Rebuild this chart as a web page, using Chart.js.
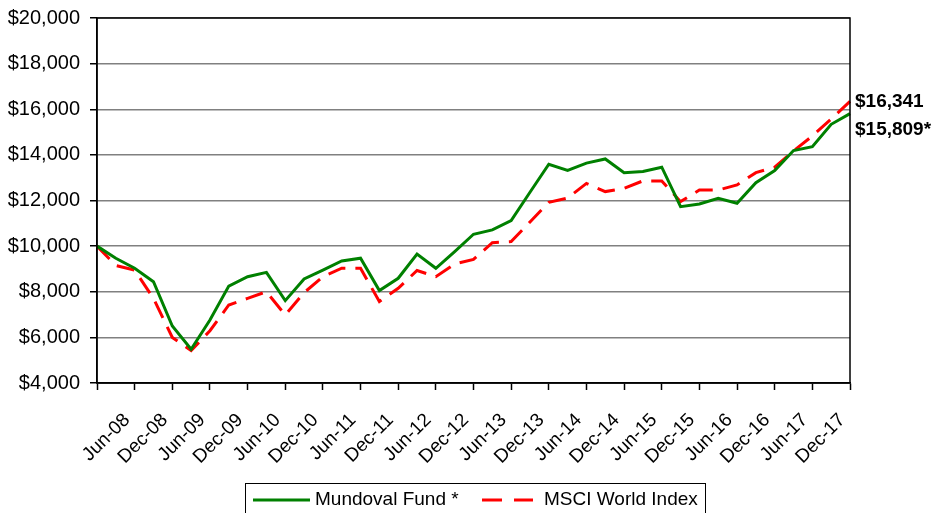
<!DOCTYPE html>
<html>
<head>
<meta charset="utf-8">
<script src="https://cdn.jsdelivr.net/npm/chart.js@4.4.0/dist/chart.umd.min.js"></script>
<style>
  html, body { margin: 0; padding: 0; background: #fff; }
  #contenedor { width: 934px; height: 513px; position: relative; }
</style>
</head>
<body>
<div id="contenedor"><canvas id="grafico" width="934" height="513"></canvas></div>
<script>
const trimestres = [
    'Jun-08', 'Sep-08', 'Dec-08', 'Mar-09', 'Jun-09', 'Sep-09', 'Dec-09', 'Mar-10',
    'Jun-10', 'Sep-10', 'Dec-10', 'Mar-11', 'Jun-11', 'Sep-11', 'Dec-11', 'Mar-12',
    'Jun-12', 'Sep-12', 'Dec-12', 'Mar-13', 'Jun-13', 'Sep-13', 'Dec-13', 'Mar-14',
    'Jun-14', 'Sep-14', 'Dec-14', 'Mar-15', 'Jun-15', 'Sep-15', 'Dec-15', 'Mar-16',
    'Jun-16', 'Sep-16', 'Dec-16', 'Mar-17', 'Jun-17', 'Sep-17', 'Dec-17', 'Mar-18',
    'Jun-18',
];

// etiquetas visibles en el eje X (cada semestre)
const etiquetasX = [
    'Jun-08', 'Dec-08', 'Jun-09', 'Dec-09', 'Jun-10', 'Dec-10', 'Jun-11', 'Dec-11',
    'Jun-12', 'Dec-12', 'Jun-13', 'Dec-13', 'Jun-14', 'Dec-14', 'Jun-15', 'Dec-15',
    'Jun-16', 'Dec-16', 'Jun-17', 'Dec-17',
];

const fondoMundoval = [
    10000, 9470, 9030, 8440, 6500, 5480, 6760, 8250,
    8660, 8850, 7610, 8560, 8950, 9350, 9470, 8050,
    8590, 9655, 9030, 9760, 10520, 10710, 11120, 12360,
    13590, 13320, 13640, 13820, 13220, 13270, 13460, 11730,
    11850, 12100, 11880, 12780, 13310, 14190, 14360, 15340,
    15809,
];

const indiceMSCI = [
    10000, 9150, 8950, 7710, 6000, 5420, 6290, 7420,
    7710, 8000, 6980, 7960, 8660, 9030, 9030, 7570,
    8150, 8930, 8660, 9220, 9420, 10150, 10200, 11060,
    11920, 12110, 12750, 12390, 12530, 12860, 12860, 11950,
    12460, 12460, 12680, 13220, 13460, 14170, 14830, 15570,
    16341,
];

const etiquetasFinales = ['$15,809*', '$16,341'];

const FUENTE = 'Arial, "Liberation Sans", sans-serif';

const bordeArea = {
    id: 'bordeArea',
    afterDatasetsDraw(chart) {
        const { ctx, chartArea: a } = chart;
        ctx.save();
        ctx.strokeStyle = '#000';
        ctx.lineWidth = 1.5;
        ctx.strokeRect(a.left, a.top, a.right - a.left, a.bottom - a.top);
        ctx.restore();
    },
};

const valoresFinales = {
    id: 'valoresFinales',
    afterDatasetsDraw(chart) {
        const { ctx, chartArea: a } = chart;
        const ptoFondo = chart.getDatasetMeta(0).data.at(-1);
        const ptoIndice = chart.getDatasetMeta(1).data.at(-1);
        ctx.save();
        ctx.font = 'bold 19px ' + FUENTE;
        ctx.fillStyle = '#000';
        ctx.textAlign = 'left';
        ctx.textBaseline = 'middle';
        ctx.fillText(etiquetasFinales[1], a.right + 5, ptoIndice.y);
        ctx.fillText(etiquetasFinales[0], a.right + 5, ptoFondo.y + 16);
        ctx.restore();
    },
};

const leyendaCaja = {
    id: 'leyendaCaja',
    afterDraw(chart) {
        const { ctx } = chart;
        const x0 = 245, y0 = 483, ancho = 460;
        ctx.save();
        ctx.strokeStyle = '#000';
        ctx.lineWidth = 1;
        ctx.strokeRect(x0 + 0.5, y0 + 0.5, ancho, 40);
        const yc = 500;
        const items = [
            { x: 253, muestra: 57, texto: 315 },
            { x: 482, muestra: 51, texto: 544 },
        ];
        chart.data.datasets.forEach((ds, i) => {
            const it = items[i];
            ctx.beginPath();
            ctx.strokeStyle = ds.borderColor;
            ctx.lineWidth = 3;
            ctx.setLineDash(ds.borderDash ? [20, 12] : []);
            ctx.moveTo(it.x, yc);
            ctx.lineTo(it.x + it.muestra, yc);
            ctx.stroke();
            ctx.setLineDash([]);
            ctx.font = '19px ' + FUENTE;
            ctx.fillStyle = '#000';
            ctx.textAlign = 'left';
            ctx.textBaseline = 'middle';
            ctx.fillText(ds.label, it.texto, yc);
        });
        ctx.restore();
    },
};

new Chart(document.getElementById('grafico'), {
    type: 'line',
    data: {
        labels: trimestres,
        datasets: [
            {
                label: 'Mundoval Fund *',
                data: fondoMundoval,
                borderColor: '#008000',
                borderWidth: 3,
                pointRadius: 0,
                tension: 0,
            },
            {
                label: 'MSCI World Index',
                data: indiceMSCI,
                borderColor: '#ff0000',
                borderWidth: 3,
                borderDash: [18, 10],
                pointRadius: 0,
                tension: 0,
            },
        ],
    },
    options: {
        responsive: false,
        animation: false,
        layout: { padding: { top: 18, right: 84, bottom: 0, left: 0 } },
        plugins: {
            legend: { display: false },
            tooltip: { enabled: false },
        },
        scales: {
            x: {
                offset: false,
                grid: {
                    drawOnChartArea: false,
                    drawTicks: true,
                    tickLength: 7,
                    tickWidth: 1.5,
                    tickColor: (c) => (c.index % 2 === 0 ? '#000' : 'rgba(0,0,0,0)'),
                },
                border: { color: '#000', width: 1.5 },
                ticks: {
                    autoSkip: false,
                    minRotation: 45,
                    maxRotation: 45,
                    labelOffset: 30,
                    padding: 19,
                    color: '#000',
                    font: { family: FUENTE, size: 19 },
                    callback: (v, i) => (etiquetasX.includes(trimestres[i]) ? trimestres[i] : ''),
                },
                afterFit: (s) => { s.height = 130; s.paddingLeft = 0; s.paddingRight = 0; },
            },
            y: {
                min: 4000,
                max: 20000,
                ticks: {
                    stepSize: 2000,
                    padding: 10,
                    color: '#000',
                    font: { family: FUENTE, size: 20 },
                    callback: (v) => '$' + v.toLocaleString('en-US'),
                },
                grid: { color: '#808080', lineWidth: 1.5, tickLength: 7, tickColor: '#000' },
                border: { color: '#000', width: 1.5 },
                afterFit: (s) => { s.width = 97; s.paddingTop = 0; s.paddingBottom = 0; },
            },
        },
    },
    plugins: [bordeArea, valoresFinales, leyendaCaja],
});
</script>
</body>
</html>
